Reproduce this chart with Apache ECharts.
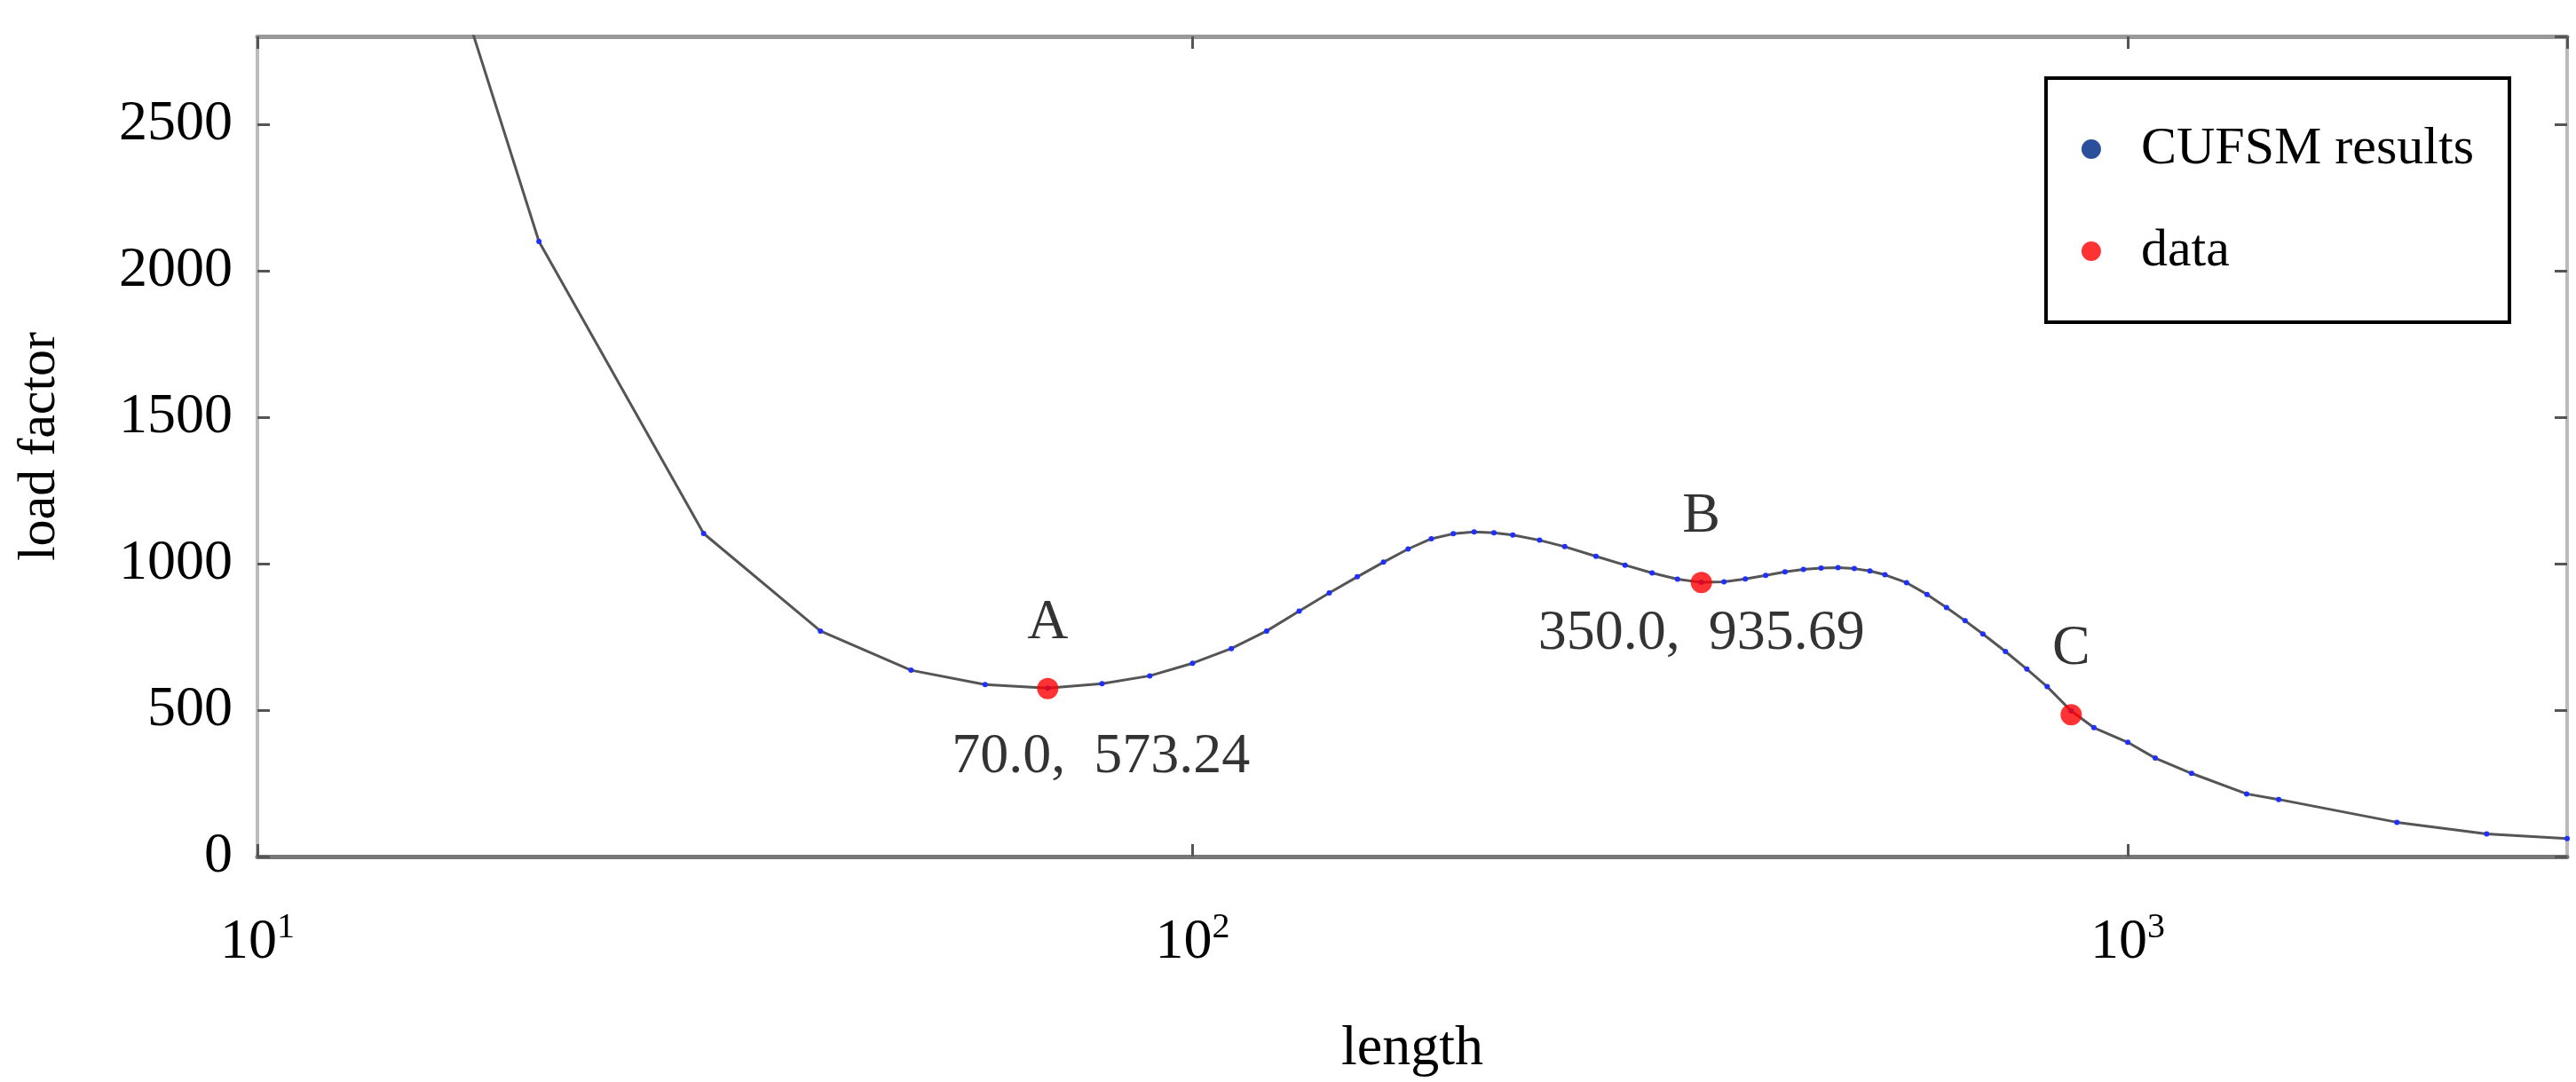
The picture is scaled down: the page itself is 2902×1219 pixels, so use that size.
<!DOCTYPE html>
<html>
<head>
<meta charset="UTF-8">
<script src="https://cdn.jsdelivr.net/npm/echarts@6/dist/echarts.min.js"></script>
<style>html,body{margin:0;background:#fff}</style>
</head>
<body>
<div id="main" style="width:2902px;height:1219px;"></div>
<script>
// curve values
var lengths = [15, 17, 20, 30, 40, 50, 60, 70, 80, 90, 100, 110, 120, 130, 140, 150, 160, 170, 180, 190, 200, 210, 220, 235, 250, 270, 290, 310, 330, 350, 370, 390, 410, 430, 450, 470, 490, 510, 530, 550, 580, 610, 640, 670, 700, 740, 780, 820, 870, 920, 1000, 1070, 1170, 1340, 1450, 1940, 2420, 2950];
var loads   = [3300, 2810, 2100, 1103, 770, 636, 587, 575, 590, 617, 660, 710, 770, 838, 900, 955, 1005, 1050, 1085, 1102, 1108, 1105, 1098, 1080, 1058, 1025, 995, 968, 947, 936, 938, 948, 960, 972, 980, 985, 986, 983, 975, 962, 935, 895, 850, 805, 760, 700, 640, 580, 497, 440, 390, 336, 284, 214, 195, 117, 77, 61];
var dataPts = [[70.0, 573.24], [350.0, 935.69], [870, 484]];
var dataTags = ['A', 'B', 'C'];
var coordText = ['70.0,  573.24', '350.0,  935.69', ''];

var font = 'Liberation Serif';
var myChart = echarts.init(document.getElementById('main'));

function supLabel(v) {
    var e = Math.round(Math.log10(v));
    return '{b|10}{s|' + e + '}';
}

var curve = lengths.map(function (x, i) { return [x, loads[i]]; });
var tagged = dataPts.map(function (p, i) {
    return {
        value: p,
        label: {show: true, position: 'top', distance: 30, formatter: dataTags[i], fontFamily: font, fontSize: 64, color: '#000'}
    };
});
var coordPts = dataPts.map(function (p, i) {
    return {
        value: p,
        label: {show: coordText[i] !== '', position: 'bottom', distance: i === 0 ? 45 : 25, offset: [i === 0 ? 60 : 0, 0], formatter: coordText[i], fontFamily: font, fontSize: 64, color: '#000'}
    };
});

var tickStyle = {inside: true, length: 14, lineStyle: {color: '#555', width: 3}};

var option = {
    backgroundColor: '#fff',
    animation: false,
    grid: {left: 290, right: 10, top: 41, bottom: 240, show: false},
    legend: {
        right: 75, top: 88,
        orient: 'vertical',
        itemGap: 55,
        padding: [50, 40, 50, 40],
        borderColor: '#000', borderWidth: 4,
        textStyle: {fontFamily: font, fontSize: 60, color: '#000', padding: [0, 0, 0, 40]},
        itemWidth: 22, itemHeight: 22,
        data: [
            {name: 'CUFSM results', icon: 'circle', itemStyle: {color: '#2b4f9a'}},
            {name: 'data', icon: 'circle', itemStyle: {color: '#ff0000'}}
        ]
    },
    xAxis: [{
        type: 'log', logBase: 10, min: 10, max: 2950,
        name: 'length', nameLocation: 'middle', nameGap: 185,
        nameTextStyle: {fontFamily: font, fontSize: 64, color: '#000'},
        axisLine: {onZero: false, lineStyle: {color: '#777', width: 5}},
        axisTick: tickStyle,
        splitLine: {show: false},
        axisLabel: {
            margin: 60, showMaxLabel: false,
            formatter: supLabel,
            rich: {
                b: {fontFamily: font, fontSize: 64, color: '#000'},
                s: {fontFamily: font, fontSize: 40, color: '#000', padding: [0, 0, 34, 0]}
            }
        }
    }, {
        type: 'log', logBase: 10, min: 10, max: 2950, position: 'top',
        axisLine: {show: true, onZero: false, lineStyle: {color: '#999', width: 5}},
        axisTick: tickStyle,
        axisLabel: {show: false}, splitLine: {show: false}
    }],
    yAxis: [{
        type: 'value', min: 0, max: 2800, interval: 500,
        name: 'load factor', nameLocation: 'middle', nameGap: 215, nameRotate: 90,
        nameTextStyle: {fontFamily: font, fontSize: 60, color: '#000'},
        axisLine: {show: true, onZero: false, lineStyle: {color: '#bbb', width: 4}},
        axisTick: {show: true, inside: true, length: 14, lineStyle: {color: '#555', width: 3}},
        splitLine: {show: false},
        axisLabel: {margin: 28, showMaxLabel: false, fontFamily: font, fontSize: 64, color: '#000', formatter: function (v) { return String(v); }}
    }, {
        type: 'value', min: 0, max: 2800, interval: 500, position: 'right',
        axisLine: {show: true, onZero: false, lineStyle: {color: '#bbb', width: 4}},
        axisTick: {show: true, inside: true, length: 14, lineStyle: {color: '#555', width: 3}},
        splitLine: {show: false}, axisLabel: {show: false}
    }],
    series: [{
        name: 'CUFSM results',
        type: 'line',
        data: curve,
        clip: true,
        symbol: 'circle', symbolSize: 6, showSymbol: true,
        itemStyle: {color: '#1f2fff'},
        lineStyle: {color: '#555', width: 3}
    }, {
        name: 'data',
        type: 'scatter',
        data: tagged,
        symbolSize: 24,
        itemStyle: {color: '#ff0000'},
        z: 5
    }, {
        name: 'coords',
        type: 'scatter',
        data: coordPts,
        symbolSize: 1,
        itemStyle: {color: 'rgba(0,0,0,0)'},
        silent: true
    }]
};
myChart.setOption(option);
</script>
</body>
</html>
